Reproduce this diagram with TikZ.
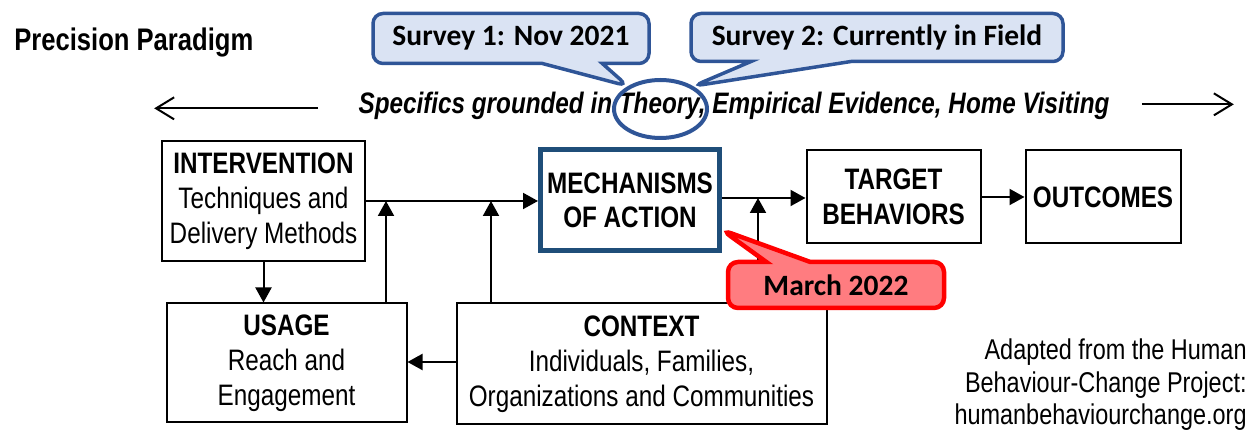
\documentclass[tikz,border=0pt]{standalone}
\usepackage{fontspec}
\setmainfont{Liberation Sans}
\newfontfamily\narrowfont[FakeStretch=0.82]{Liberation Sans}
\newfontfamily\calfont{Carlito}
\usetikzlibrary{arrows.meta,shapes.geometric,shapes.callouts}
\definecolor{balloonfill}{RGB}{218,227,243}
\definecolor{balloonline}{RGB}{47,85,151}
\definecolor{mechline}{RGB}{31,78,121}
\definecolor{marchfill}{RGB}{255,124,128}
\definecolor{marchline}{RGB}{255,0,0}
\tikzset{
  box/.style={shape=rectangle, draw=black, line width=1pt, align=center, inner sep=0pt,
    font=\narrowfont\fontsize{14.8}{17.5}\selectfont},
  flow/.style={line width=1pt, -{Triangle[length=7.5pt,width=8pt]}},
  wide/.style={line width=1pt, -{Straight Barb[length=9pt,width=11pt]}},
  balloon/.style={rectangle callout, rounded corners=5pt, draw=balloonline, fill=balloonfill,
    line width=1.75pt, inner sep=0pt, font=\calfont\bfseries\fontsize{14.75}{17}\selectfont},
}
\begin{document}
\begin{tikzpicture}[x=0.5pt, y=-0.5pt]
  \useasboundingbox (0,0) rectangle (1249,432);

  \node [anchor=base west, inner sep=0pt, font=\narrowfont\bfseries\fontsize{15.6}{18}\selectfont] (title) at (14,51) {Precision Paradigm};
  \node [anchor=base, inner sep=0pt, font=\narrowfont\bfseries\itshape\fontsize{14.8}{17}\selectfont] (spec) at (734,114)
        {Specifics grounded in Theory, Empirical Evidence, Home Visiting};
  \draw [wide] ([xshift=-20pt,yshift=-1pt]spec.west) -- ++(-82pt,0);
  \draw [wide] ([xshift=16pt,yshift=1pt]spec.east) -- ++(46pt,0);

  \node [box, minimum width=101.5pt, minimum height=60pt] (interv) at (263.5,201)
        {\textbf{INTERVENTION}\\Techniques and\\Delivery Methods};
  \node [box, draw=mechline, line width=2.5pt, minimum width=89.5pt, minimum height=50.5pt,
         font=\narrowfont\bfseries\fontsize{14.8}{17}\selectfont] (mech) at (630,200) {MECHANISMS\\OF ACTION};
  \node [box, minimum width=87pt, minimum height=46.5pt,
         font=\narrowfont\bfseries\fontsize{14.8}{17.5}\selectfont] (target) at (893.5,197) {TARGET\\BEHAVIORS};
  \node [box, minimum width=77.5pt, minimum height=46.5pt,
         font=\narrowfont\bfseries\fontsize{14.8}{17.5}\selectfont] (outcomes) at (1103,197) {OUTCOMES};
  \node [box, minimum width=120pt, minimum height=59.5pt] (usage) at (286.5,363)
        {\textbf{USAGE}\\Reach and\\Engagement};
  \node [box, minimum width=185pt, minimum height=60.5pt] (context) at (641.5,364)
        {\textbf{CONTEXT}\\Individuals, Families,\\Organizations and Communities};

  \coordinate (jn1) at (386,201);
  \coordinate (jn2) at (491,201);
  \coordinate (jn3) at (758,198);
  \coordinate (marchtip) at (722,230);

  \draw [flow] (interv.east |- jn1) -- (jn1 -| mech.west);
  \draw [flow] (interv.south) -- (interv.south |- usage.north);
  \draw [flow] (jn1 |- usage.north) -- (jn1);
  \draw [flow] (jn2 |- context.north) -- (jn2);
  \draw [flow] (context.west |- 0,362) -- (usage.east |- 0,362);
  \draw [flow] (mech.east |- jn3) -- (jn3 -| target.west);
  \draw [flow] (jn3 |- context.north) -- (jn3);
  \draw [flow] (target.east) -- (target.east -| outcomes.west);

  \node [shape=ellipse, draw=balloonline, line width=2pt, minimum width=46.5pt, minimum height=29pt] (theory) at (660.5,109) {};

  \node [balloon, minimum width=138pt, minimum height=25pt, callout absolute pointer={(theory.145)},
         callout pointer width=30pt] (survey1) at (511,38.5) {Survey 1: Nov 2021};
  \node [balloon, minimum width=186pt, minimum height=24pt, callout absolute pointer={(theory.35)},
         callout pointer width=50pt] (survey2) at (877,37.5) {Survey 2: Currently in Field};
  \node [balloon, draw=marchline, fill=marchfill, line width=2.25pt, minimum width=108pt, minimum height=23pt,
         callout absolute pointer={(marchtip)}, callout pointer width=22pt] (march) at (836,285) {March 2022};

  \node [anchor=east, align=right, inner sep=0pt, font=\narrowfont\fontsize{14.3}{16.25}\selectfont] (credit) at (1247,385)
        {Adapted from the Human\\Behaviour-Change Project:\\humanbehaviourchange.org};
\end{tikzpicture}
\end{document}
